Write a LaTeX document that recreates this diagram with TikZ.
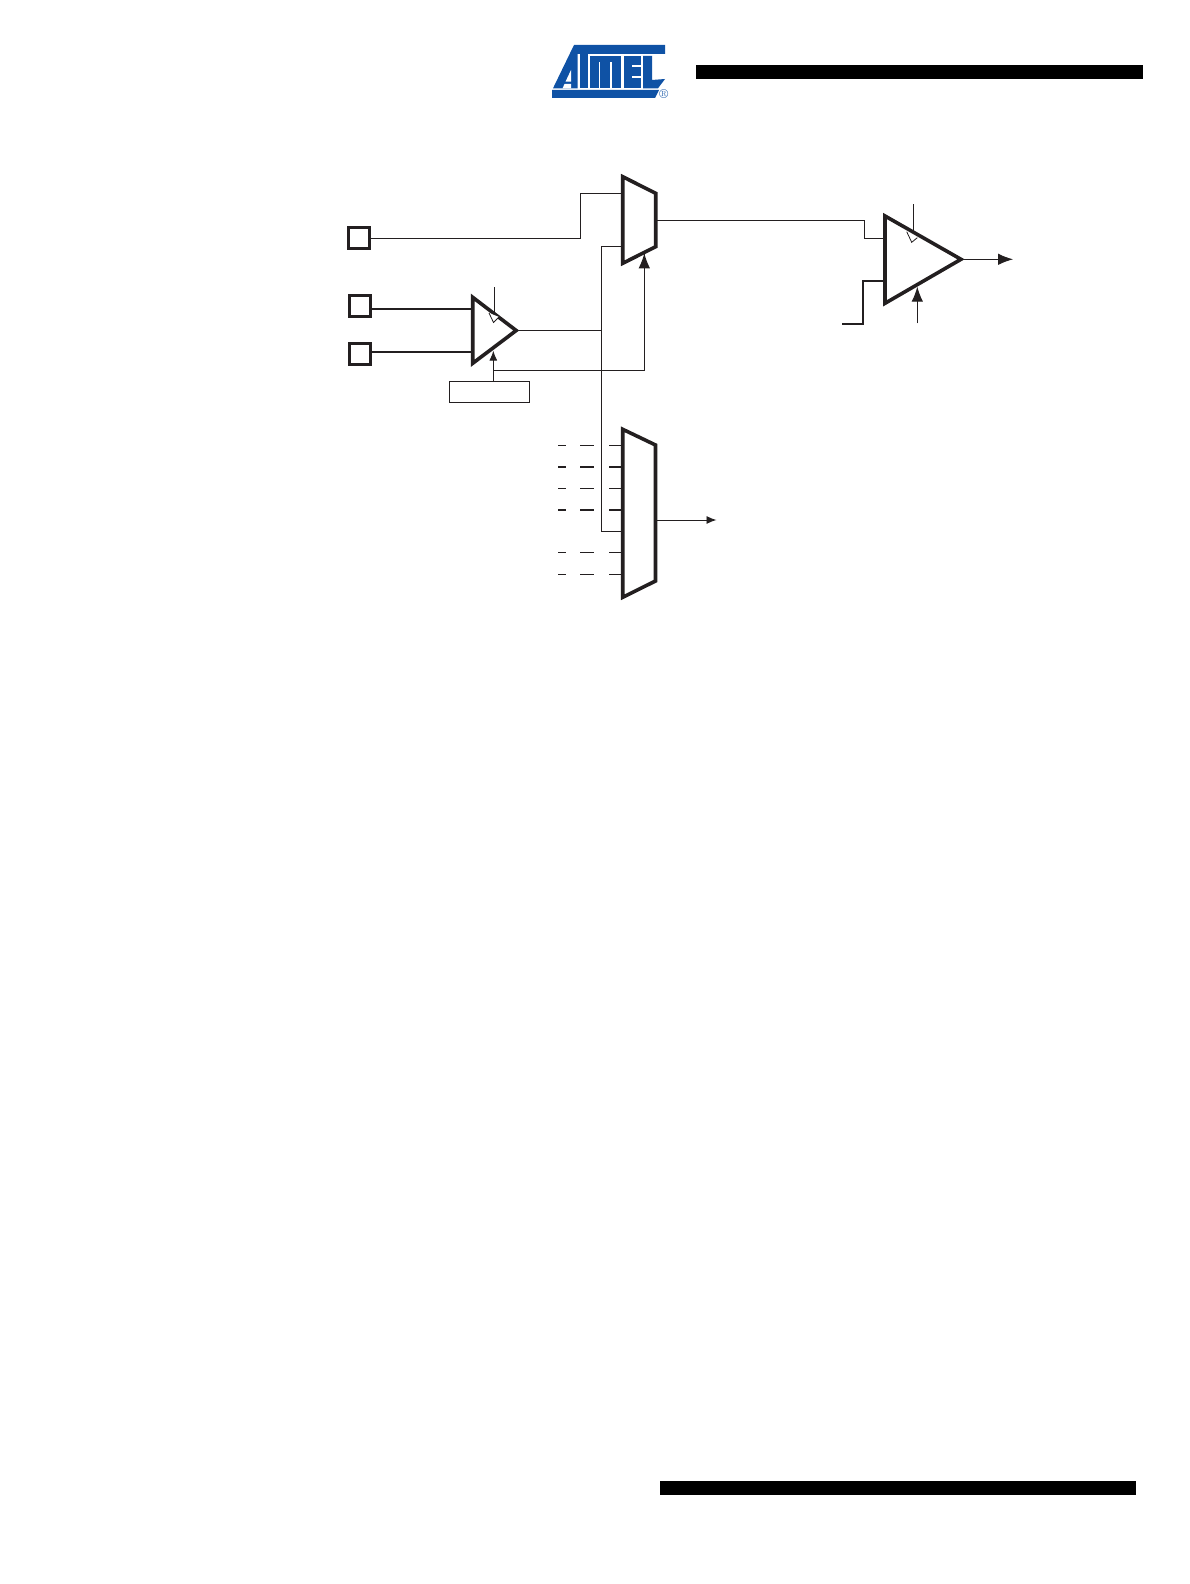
\documentclass[tikz,border=0pt]{standalone}
\usetikzlibrary{arrows.meta}
\definecolor{logoblue}{HTML}{0F52A5}
\definecolor{inkblack}{HTML}{231F20}
\tikzset{
	wire/.style={draw=inkblack, line width=0.95pt},
	wirebold/.style={draw=inkblack, line width=1.9pt},
	block/.style={draw=inkblack, line width=3.6pt, line join=miter, fill=white},
	pad/.style={draw=inkblack, line width=2.6pt, minimum size=20.5pt, inner sep=0pt, fill=white},
	bigtip/.style={-{Latex[length=15pt,width=11.5pt]}},
	smalltip/.style={-{Latex[length=10pt,width=8pt]}},
	clockmark/.style={draw=inkblack, line width=0.8pt, fill=white},
	bar/.style={fill=black, draw=none},
	logofill/.style={fill=logoblue, draw=none},
	logocut/.style={fill=white, draw=none}
}
\begin{document}
\begin{tikzpicture}[x=1pt, y=-1pt]
	\useasboundingbox (0,0) rectangle (1190,1584);

	% page bars
	\fill[bar] (696,65) rectangle (1142.5,79);
	\fill[bar] (660,1481) rectangle (1136,1494.5);

	% logo
	\fill[logofill] (574,45) -- (665,45) -- (665,54) -- (577.5,54) -- (577.5,88.3) -- (553,88.3) -- cycle;
	\fill[logocut] (565.5,81.7) -- (571,70) -- (571,81.7) -- cycle;
	\fill[logocut] (562.5,88.5) -- (564.5,84) -- (571,84) -- (571,88.5) -- cycle;
	\fill[logofill] (579.5,45) rectangle (587.5,88.3);
	\fill[logofill] (589.5,56) rectangle (621,88.3);
	\fill[logocut] (598.5,62) -- (600,62) -- (600,88.5) -- (598.5,88.5) -- cycle;
	\fill[logocut] (610,62) -- (611.5,62) -- (611.5,88.5) -- (610,88.5) -- cycle;
	\fill[logofill] (623.5,56) rectangle (641,88.3);
	\fill[logocut] (632,65.5) rectangle (641.5,67.5);
	\fill[logocut] (632,76.5) rectangle (641.5,78.5);
	\fill[logofill] (643,56) -- (652,56) -- (652,80) -- (665,79) -- (658,88.3) -- (643,88.3) -- cycle;
	\fill[logofill] (552,90) -- (659,90) -- (655,98) -- (552,98) -- cycle;
	\node[text=logoblue, inner sep=0pt, font=\fontsize{13}{13}\selectfont] (regmark) at (663.8,94.5) {\textregistered};

	% top multiplexer
	\coordinate (muxAnw) at (622.7,176.7);
	\coordinate (muxAne) at (655.7,193.3);
	\coordinate (muxAse) at (655.7,246.7);
	\coordinate (muxAsw) at (622.7,263.3);
	\coordinate (muxAinA) at (622.7,193.3);
	\coordinate (muxAinB) at (622.7,246.7);
	\coordinate (muxAout) at (655.7,220);
	\coordinate (muxAsel) at (644.3,253.3);

	% bottom multiplexer
	\coordinate (muxBnw) at (622.7,429.3);
	\coordinate (muxBne) at (655.5,445);
	\coordinate (muxBse) at (655.5,581);
	\coordinate (muxBsw) at (622.7,597.3);
	\coordinate (muxBin) at (622.7,531.3);
	\coordinate (muxBout) at (655.5,520);
	\coordinate (muxBend) at (716.5,520);

	% comparator
	\coordinate (ampAtop) at (472.7,297.3);
	\coordinate (ampAbot) at (472.7,363.3);
	\coordinate (ampAtip) at (516.2,330.5);
	\coordinate (ampAinA) at (472.7,308.7);
	\coordinate (ampAinB) at (472.7,351.7);

	% output stage
	\coordinate (ampBtop) at (885,216);
	\coordinate (ampBbot) at (885,303.3);
	\coordinate (ampBtip) at (961,259.3);
	\coordinate (ampBinA) at (885,238.3);
	\coordinate (ampBinB) at (885,280.7);
	\coordinate (ampBend) at (1013,259.3);

	% pads and reference box
	\node[pad] (padA) at (359,238) {};
	\node[pad] (padB) at (360,306) {};
	\node[pad] (padC) at (360,354) {};
	\node[draw=inkblack, line width=0.9pt, minimum width=80pt, minimum height=20.6pt, inner sep=0pt] (refbox) at (489.3,392) {};

	% wires
	\coordinate (stepA) at (580,193.3);
	\coordinate (busTop) at (601.7,246.7);
	\coordinate (busOut) at (601.7,330.5);
	\coordinate (busEnd) at (601.7,531.3);
	\coordinate (stepB) at (864.3,220);
	\coordinate (stepC) at (863.3,280.7);
	\coordinate (stubC) at (842.3,324);
	\coordinate (selBase) at (493.3,381.7);
	\coordinate (selTip) at (493.3,350.7);
	\coordinate (selTurn) at (493.3,370.3);
	\coordinate (clkAtop) at (494.3,287.3);
	\coordinate (clkAbot) at (494.3,314);
	\coordinate (clkBtop) at (913.3,204);
	\coordinate (clkBbot) at (913.3,234);
	\coordinate (enBase) at (917.3,323.3);
	\coordinate (enTip) at (917.3,286.7);

	\draw[wire] (padA.east) -| (stepA) -- (muxAinA);
	\draw[wire] (muxAinB) -- (busTop) -- (busEnd) -- (muxBin);
	\draw[wire] (ampAtip) -- (busOut);
	\draw[wire] (muxAout) -- (stepB) |- (ampBinA);
	\draw[wirebold] (ampBinB) -| (stepC) |- (stubC);
	\draw[wirebold] (padB.east |- ampAinA) -- (ampAinA);
	\draw[wirebold] (padC.east |- ampAinB) -- (ampAinB);
	\draw[wire] (selTurn) -| (muxAsel);

	% blocks
	\draw[block] (muxAnw) -- (muxAne) -- (muxAse) -- (muxAsw) -- cycle;
	\draw[block] (muxBnw) -- (muxBne) -- (muxBse) -- (muxBsw) -- cycle;
	\draw[block] (ampAtop) -- (ampAtip) -- (ampAbot) -- cycle;
	\draw[block] (ampBtop) -- (ampBtip) -- (ampBbot) -- cycle;

	% arrow heads on top of the blocks
	\draw[wire, bigtip] (selTurn -| muxAsel) -- (muxAsel);
	\draw[wire, bigtip] (ampBtip) -- (ampBend);
	\draw[wire, smalltip] (selBase) -- (selTip);
	\draw[wire, bigtip] (enBase) -- (enTip);
	\draw[wire, smalltip] (muxBout) -- (muxBend);

	% clock marks
	\draw[clockmark] (489,313) -- (493.5,322.5) -- (499,317);
	\draw[wire] (clkAtop) -- (clkAbot);
	\draw[clockmark] (906.7,231.7) -- (911.7,242.3) -- (917.3,237.7);
	\draw[wire] (clkBtop) -- (clkBbot);

	% unconnected mux inputs
	\foreach \ypos/\lw in {445/0.8, 467/1.7, 488.3/0.8, 509.7/1.7, 552.3/0.8, 574.3/0.8} {
		\draw[draw=inkblack, line width=\lw pt] (558,\ypos) -- (566,\ypos);
		\draw[draw=inkblack, line width=\lw pt] (580,\ypos) -- (593.5,\ypos);
		\draw[draw=inkblack, line width=\lw pt] (609,\ypos) -- (621.5,\ypos);
	}
\end{tikzpicture}
\end{document}
